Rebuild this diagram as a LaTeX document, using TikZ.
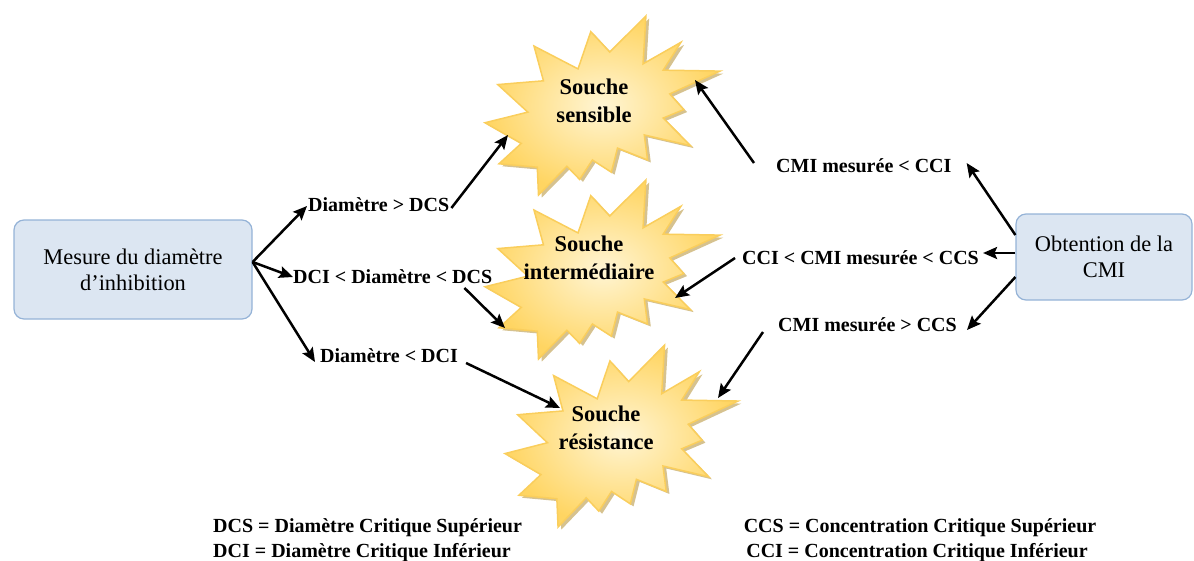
\documentclass[tikz,border=0pt]{standalone}
\usepackage{fontspec}
\setmainfont{Liberation Serif}
\usetikzlibrary{arrows.meta,calc}
\definecolor{boxfill}{RGB}{220,230,242}
\definecolor{boxline}{RGB}{149,179,215}
\definecolor{starin}{RGB}{255,245,212}
\definecolor{starout}{RGB}{255,213,98}
\definecolor{starline}{RGB}{250,206,92}
\definecolor{starshadow}{RGB}{196,168,96}
\newcommand{\burstpath}{(114.62,43.42) -- (147.90,0) -- (145.25,57.77) -- (180.07,31.72) -- (163.80,65.32) -- (216.00,66.45) -- (169.85,94.02) -- (182.70,112.90) -- (163.80,123.10) -- (188.77,156.32) -- (146.40,143.50) -- (149.42,173.70) -- (121.80,159.35) -- (116.12,188.42) -- (98.72,173.70) -- (87.00,197.12) -- (75.27,181.25) -- (49.17,216.00) -- (48.05,182.40) -- (12.85,178.25) -- (33.30,153.70) -- (0,128.77) -- (39.35,115.92) -- (11.72,82.70) -- (53.72,78.17) -- (45.02,36.25) -- (85.50,63.82) -- (97.22,18.87) -- cycle}
\newcommand{\burst}{%
  \fill[starshadow,opacity=0.7,xshift=3pt,yshift=-3pt] \burstpath;
  \shade[inner color=starin,outer color=starout] \burstpath;
  \draw[starline,line width=1.5pt,line join=miter] \burstpath;}
\tikzset{
  box/.style={draw=boxline,fill=boxfill,line width=1.2pt,rounded corners=10pt,align=center,
    font=\fontsize{22.4}{26}\selectfont},
  startext/.style={align=center,font=\fontsize{22.5}{28.5}\selectfont\bfseries},
  lab/.style={inner sep=0pt,font=\fontsize{20}{24}\selectfont\bfseries},
  legend/.style={inner sep=0pt,font=\fontsize{20}{24}\selectfont\bfseries},
  arr/.style={draw=black,line width=2.5pt,-{Stealth[length=14pt,width=12pt,inset=2.5pt]}}
}
\begin{document}
\begin{tikzpicture}[x=1pt,y=-1pt]
\useasboundingbox (0,0) rectangle (1194,560);
% stars
\begin{scope}[shift={(485,16)},xscale=1.088,yscale=0.829]\burst\end{scope}
\begin{scope}[shift={(485,180)},xscale=1.088,yscale=0.829]\burst\end{scope}
\begin{scope}[shift={(505,345)},xscale=1.079,yscale=0.843]\burst\end{scope}
\node[startext] (sens) at (594,101) {Souche\\sensible};
\node[startext] (inter) at (589,258) {Souche\\intermédiaire};
\node[startext] (res) at (606,428) {Souche\\résistance};
\coordinate (sensIn) at (508,135);
\coordinate (sensOut) at (695,80);
\coordinate (interIn) at (505,328);
\coordinate (interOut) at (675,298);
\coordinate (resIn) at (560,408);
\coordinate (resOut) at (718,398);
% boxes
\node[box,minimum width=238pt,minimum height=99pt] (mes) at (133,269.5) {Mesure du diamètre\\d’inhibition};
\node[box,minimum width=176pt,minimum height=86pt] (obt) at (1104,257) {Obtention de la\\CMI};
% labels left
\node[lab,anchor=base west] (l1) at (308,211) {Diamètre > DCS};
\node[lab,anchor=base west] (l2) at (293,283) {DCI < Diamètre < DCS};
\node[lab,anchor=base west] (l3) at (320,362) {Diamètre < DCI};
% labels right
\node[lab,anchor=base west] (r1) at (776,172) {CMI mesurée < CCI};
\node[lab,anchor=base west] (r2) at (742,264) {CCI < CMI mesurée < CCS};
\node[lab,anchor=base west] (r3) at (778,331) {CMI mesurée > CCS};
% arrows left
\coordinate (mesout) at ([yshift=7.5pt]mes.east);
\draw[arr] (mesout) -- ([xshift=-1pt,yshift=5pt]l1.base west);
\draw[arr] (mesout) -- ([yshift=6pt]l2.base west);
\draw[arr] (mesout) -- ([xshift=-5pt]l3.base west);
\draw[arr] ([xshift=2pt,yshift=3pt]l1.base east) -- (sensIn);
\draw[arr] ([xshift=-28pt,yshift=-5pt]l2.base east) -- (interIn);
\draw[arr] ([xshift=8pt,yshift=-1pt]l3.base east) -- (resIn);
% arrows right
\draw[arr] ([yshift=22pt]obt.west) -- ([xshift=15pt,yshift=9pt]r1.base east);
\draw[arr] ([yshift=4pt]obt.west) -- ([xshift=4pt,yshift=11pt]r2.base east);
\draw[arr] ([yshift=-20pt]obt.west) -- ([xshift=10pt,yshift=1pt]r3.base east);
\draw[arr] ([xshift=-22pt,yshift=9pt]r1.base west) -- (sensOut);
\draw[arr] ([xshift=-7pt,yshift=6pt]r2.base west) -- (interOut);
\draw[arr] ([xshift=-15pt,yshift=-1pt]r3.base west) -- (resOut);
% legends
\node[legend,anchor=base west] (lg1) at (213,532) {DCS = Diamètre Critique Supérieur};
\node[legend,anchor=base west] (lg2) at (213,557) {DCI = Diamètre Critique Inférieur};
\node[legend,anchor=base] (lg3) at (920,532) {CCS = Concentration Critique Supérieur};
\node[legend,anchor=base] (lg4) at (917,557) {CCI = Concentration Critique Inférieur};
\end{tikzpicture}
\end{document}
